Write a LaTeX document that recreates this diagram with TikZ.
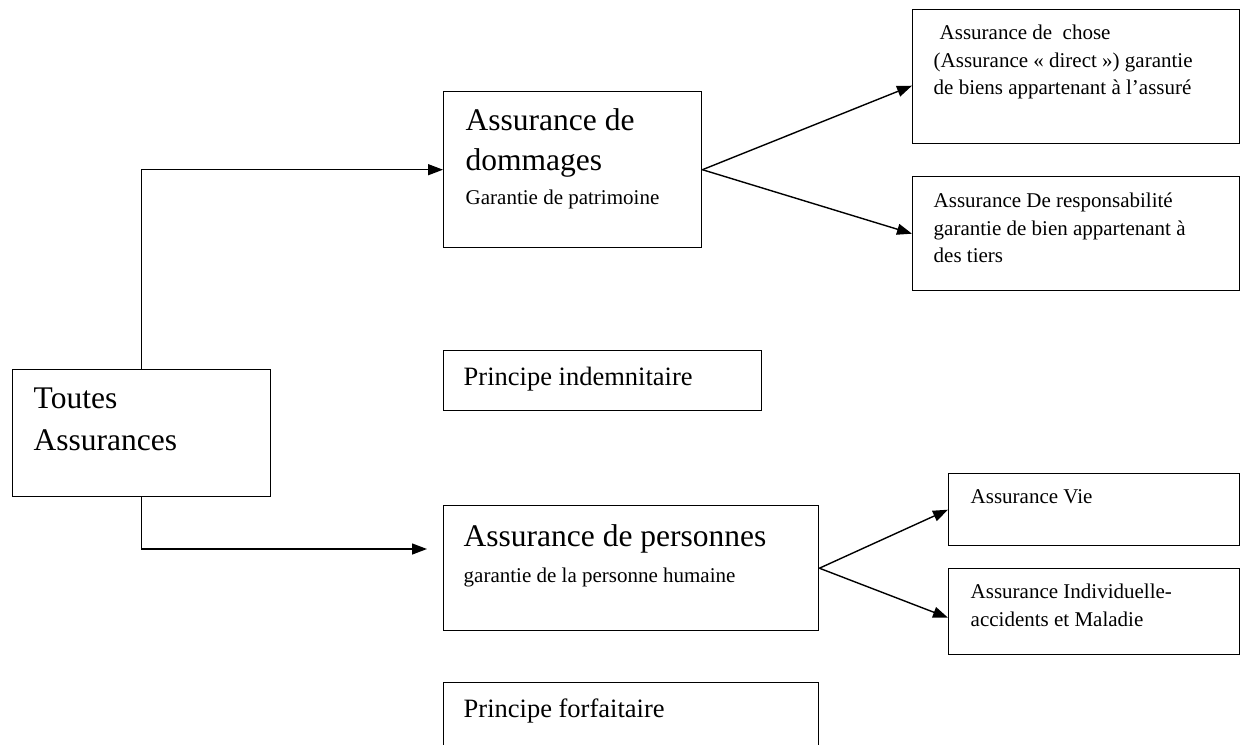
\documentclass[tikz,border=0pt]{standalone}
\usepackage{fontspec}
\setmainfont{Liberation Serif}
\usetikzlibrary{arrows.meta}
\newcommand{\fontgrand}{\fontsize{31.5}{40}\selectfont}
\newcommand{\fontmoyen}{\fontsize{26.5}{32}\selectfont}
\newcommand{\fontpetit}{\fontsize{21}{27.5}\selectfont}
\begin{document}
\begin{tikzpicture}[x=1pt,y=-1pt,
  boite/.style={draw, line width=1.4pt, rectangle, anchor=north west, inner ysep=0pt, align=flush left,
    execute at begin node={\spaceskip=0pt\xspaceskip=0pt\relax}},
  fleche/.style={-{Triangle[length=15pt,width=11pt]}, line width=1.4pt}]
\useasboundingbox (0,0) rectangle (1241,744);
% colonne de gauche
\node[boite, inner xsep=21pt, text width=216pt, text height=39pt, text depth=88pt, font=\fontgrand] (toutes) at (12,369) {Toutes\\[2pt]Assurances};
% colonne du milieu
\node[boite, inner xsep=22pt, text width=214pt, text height=39pt, text depth=117pt, font=\fontgrand] (dommages) at (443,91) {Assurance de\\dommages\\[-6pt]\fontpetit Garantie de patrimoine};
\node[boite, inner xsep=20pt, text width=278pt, text height=35pt, text depth=25pt, font=\fontmoyen] (indemn) at (443,350) {Principe indemnitaire};
\node[boite, inner xsep=20pt, text width=335pt, text height=41pt, text depth=84pt, font=\fontgrand] (personnes) at (443,505) {Assurance de personnes\\[-4pt]\fontpetit garantie de la personne humaine};
\node[boite, inner xsep=20pt, text width=335pt, text height=35pt, text depth=55pt, font=\fontmoyen] (forfait) at (443,682) {Principe forfaitaire};
% colonne de droite
\node[boite, inner xsep=21pt, text width=285pt, text height=30pt, text depth=104pt, font=\fontpetit] (chose) at (912,9) {\hspace*{6pt}Assurance de~ chose\\(Assurance «~direct~») garantie\\de biens appartenant à l’assuré};
\node[boite, inner xsep=21pt, text width=285pt, text height=31pt, text depth=83pt, font=\fontpetit] (resp) at (912,176) {Assurance De responsabilité\\garantie de bien appartenant à\\des tiers};
\node[boite, inner xsep=22pt, text width=247pt, text height=30pt, text depth=42pt, font=\fontpetit] (vie) at (948,473) {Assurance Vie};
\node[boite, inner xsep=22pt, text width=247pt, text height=30pt, text depth=56pt, font=\fontpetit] (indiv) at (948,568) {Assurance Individuelle-\\accidents et Maladie};
% liaisons
\coordinate (pend) at (427,549);
\draw[fleche] (toutes.north) |- (dommages.west);
\draw[fleche] (toutes.south) |- (pend);
\draw[fleche] (dommages.east) -- ([yshift=-9pt]chose.west);
\draw[fleche] (dommages.east) -- (resp.west);
\draw[fleche] (personnes.east) -- (vie.west);
\draw[fleche] (personnes.east) -- ([yshift=-6pt]indiv.west);
\end{tikzpicture}
\end{document}
